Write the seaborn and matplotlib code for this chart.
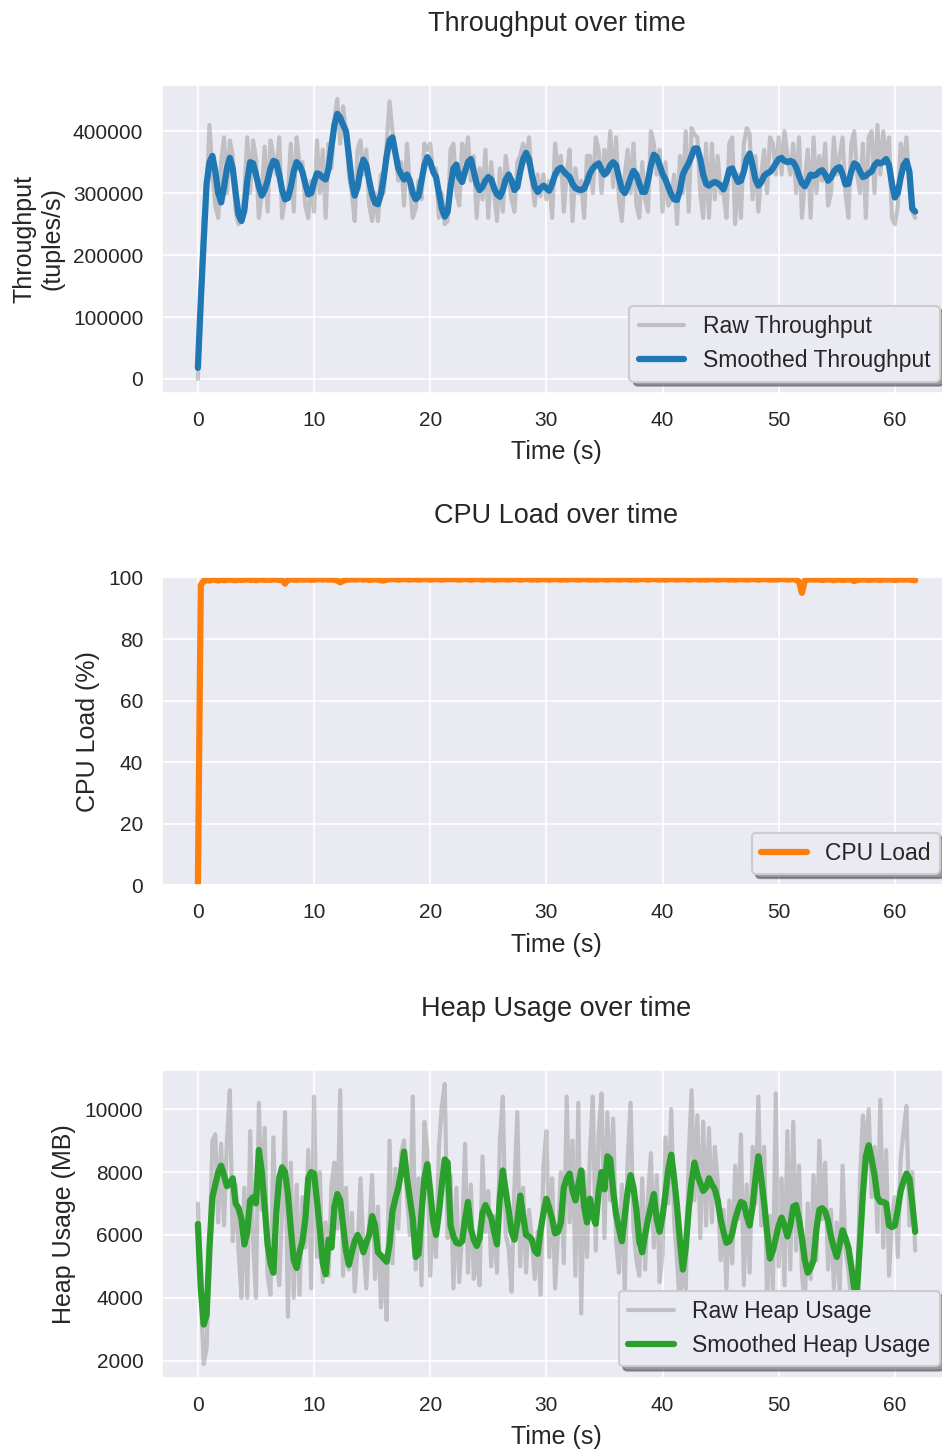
import numpy as np
import pandas as pd
import seaborn as sns
import matplotlib.pyplot as plt

sns.set_style("darkgrid")
plt.rcParams['font.family'] = ['Liberation Sans', 'DejaVu Sans']
plt.rcParams['xtick.labelsize'] = 10
plt.rcParams['ytick.labelsize'] = 10
plt.rcParams['axes.labelsize'] = 12
plt.rcParams['axes.titlesize'] = 13
plt.rcParams['legend.fontsize'] = 11
plt.rcParams['xtick.major.pad'] = 5
plt.rcParams['ytick.major.pad'] = 5.5

# samples every 0.25 s
SAMPLE_INTERVAL = 0.25

# throughput in thousands of tuples/s
raw_throughput_k = [
    0, 150, 260, 300, 410, 330, 280, 260,
    350, 390, 300, 385, 360, 270, 250, 255,
    300, 390, 300, 385, 355, 260, 300, 375,
    270, 385, 360, 330, 390, 260, 290, 300,
    380, 270, 390, 345, 350, 280, 260, 320,
    270, 385, 300, 370, 260, 380, 340, 420,
    452, 380, 440, 400, 330, 300, 255, 370,
    385, 330, 370, 280, 255, 300, 255, 330,
    300, 380, 448, 400, 370, 320, 350, 280,
    380, 310, 260, 275, 320, 290, 380, 370,
    380, 330, 340, 260, 300, 250, 255, 370,
    380, 300, 280, 380, 350, 390, 320, 360,
    260, 340, 290, 370, 260, 350, 300, 255,
    340, 270, 360, 325, 290, 270, 350, 360,
    380, 350, 390, 320, 280, 330, 295, 330,
    290, 320, 260, 380, 330, 360, 270, 330,
    370, 255, 340, 300, 320, 260, 360, 360,
    300, 390, 370, 300, 370, 330, 400, 310,
    390, 290, 255, 330, 370, 300, 380, 280,
    260, 350, 290, 270, 400, 380, 330, 370,
    270, 350, 280, 290, 330, 250, 360, 300,
    400, 270, 405, 395, 390, 300, 260, 380,
    260, 380, 290, 360, 300, 300, 260, 380,
    390, 250, 330, 260, 380, 405, 395, 290,
    360, 270, 330, 370, 300, 390, 380, 330,
    390, 330, 400, 360, 330, 380, 300, 390,
    260, 320, 370, 260, 390, 300, 360, 320,
    380, 280, 300, 390, 330, 360, 390, 300,
    260, 380, 400, 330, 300, 380, 260, 390,
    400, 300, 410, 330, 400, 350, 390, 260,
    250, 280, 380, 350, 390, 310, 270, 260,
]
smooth_throughput_k = [
    18, 126, 223, 315, 350, 360, 335, 300,
    285, 310, 340, 357, 340, 300, 265, 255,
    272, 320, 350, 348, 330, 310, 296, 305,
    320, 340, 352, 350, 330, 305, 290, 292,
    310, 335, 350, 345, 334, 315, 298, 300,
    318, 332, 330, 325, 322, 340, 375, 410,
    428, 422, 410, 400, 360, 318, 296, 310,
    338, 354, 345, 320, 298, 284, 282, 298,
    325, 360, 385, 390, 365, 340, 330, 322,
    330, 320, 300, 290, 295, 320, 345, 358,
    350, 335, 326, 300, 275, 262, 270, 310,
    340, 346, 325, 318, 335, 350, 355, 335,
    315, 305, 310, 320, 326, 322, 308, 298,
    294, 305, 322, 330, 320, 305, 310, 335,
    355, 365, 355, 330, 310, 302, 308, 312,
    308, 304, 315, 330, 338, 341, 335, 330,
    326, 315, 308, 306, 305, 307, 318, 332,
    340, 345, 348, 338, 330, 335, 345, 350,
    345, 325, 306, 300, 310, 325, 336, 330,
    315, 302, 302, 320, 345, 362, 358, 345,
    331, 322, 310, 298, 290, 289, 305, 330,
    340, 348, 360, 372, 372, 355, 330, 315,
    312, 316, 318, 316, 312, 306, 320, 338,
    340, 328, 318, 320, 335, 355, 364, 345,
    322, 312, 318, 328, 332, 334, 340, 348,
    355, 357, 352, 350, 352, 350, 342, 328,
    316, 311, 320, 330, 328, 330, 335, 337,
    330, 320, 325, 335, 340, 342, 330, 314,
    315, 335, 348, 345, 335, 326, 328, 332,
    335, 345, 350, 348, 350, 355, 345, 315,
    293, 300, 325, 345, 352, 335, 275, 270,
]

cpu_load = [
    0, 97.5, 98.9, 99.1, 99.0, 99.3, 99.2, 99.0,
    99.3, 99.1, 99.2, 99.4, 99.2, 99.1, 99.3, 99.2,
    99.3, 99.4, 99.2, 99.3, 99.1, 99.3, 99.4, 99.2,
    99.3, 99.2, 99.4, 99.3, 99.2, 99.1, 98.0, 99.2,
    99.4, 99.3, 99.2, 99.4, 99.3, 99.3, 99.4, 99.2,
    99.3, 99.4, 99.5, 99.3, 99.4, 99.3, 99.4, 99.2,
    99.0, 98.4, 98.9, 99.2, 99.3, 99.4, 99.3, 99.4,
    99.5, 99.3, 99.4, 99.2, 99.3, 99.4, 99.3, 99.1,
    99.0, 99.3, 99.4, 99.5, 99.4, 99.3, 99.4, 99.5,
    99.4, 99.3, 99.5, 99.4, 99.3, 99.4, 99.5, 99.4,
    99.3, 99.4, 99.5, 99.4, 99.3, 99.4, 99.5, 99.4,
    99.5, 99.4, 99.3, 99.4, 99.5, 99.4, 99.3, 99.4,
    99.5, 99.4, 99.3, 99.4, 99.5, 99.4, 99.3, 99.4,
    99.4, 99.5, 99.4, 99.3, 99.4, 99.5, 99.4, 99.3,
    99.4, 99.5, 99.4, 99.3, 99.4, 99.3, 99.4, 99.5,
    99.4, 99.3, 99.4, 99.5, 99.4, 99.3, 99.4, 99.3,
    99.4, 99.5, 99.4, 99.3, 99.4, 99.5, 99.4, 99.3,
    99.4, 99.3, 99.4, 99.5, 99.4, 99.3, 99.4, 99.5,
    99.4, 99.3, 99.4, 99.5, 99.4, 99.3, 99.4, 99.3,
    99.4, 99.5, 99.4, 99.3, 99.4, 99.5, 99.4, 99.3,
    99.4, 99.3, 99.4, 99.5, 99.4, 99.3, 99.4, 99.5,
    99.4, 99.3, 99.4, 99.5, 99.4, 99.3, 99.4, 99.3,
    99.4, 99.5, 99.4, 99.3, 99.4, 99.5, 99.4, 99.3,
    99.4, 99.3, 99.4, 99.5, 99.4, 99.3, 99.4, 99.5,
    99.4, 99.3, 99.4, 99.5, 99.4, 99.3, 99.4, 99.3,
    99.4, 99.5, 99.4, 99.3, 99.4, 99.5, 99.2, 98.6,
    95.0, 99.0, 99.3, 99.4, 99.3, 99.4, 99.3, 99.2,
    99.3, 99.4, 99.3, 99.1, 99.3, 99.4, 99.2, 99.3,
    99.4, 99.3, 98.8, 99.2, 99.3, 99.4, 99.3, 99.2,
    99.3, 99.4, 99.3, 99.2, 99.4, 99.3, 99.4, 99.3,
    99.2, 99.3, 99.4, 99.3, 99.4, 99.3, 99.2, 99.1,
]

raw_heap = [
    7000, 4200, 1900, 2400, 5400, 9000, 9200, 6400,
    8900, 6300, 9000, 10600, 5800, 7600, 5500, 4000,
    7500, 4000, 9300, 5800, 4000, 10200, 6800, 9400,
    4700, 4100, 9100, 5400, 4400, 6800, 9900, 3400,
    8300, 4000, 7600, 4100, 7200, 5600, 8700, 4300,
    10400, 5300, 8000, 4500, 6400, 4700, 7600, 8300,
    6200, 10600, 4700, 7500, 4900, 6700, 4200, 5600,
    7800, 5600, 4300, 6300, 7900, 4600, 6900, 3700,
    5300, 3300, 9000, 5100, 8100, 6200, 8600, 9000,
    7200, 6000, 10400, 4900, 7800, 4400, 9600, 8700,
    4700, 6600, 5300, 8800, 10100, 10800, 5900, 7900,
    4300, 7500, 4500, 6100, 8900, 4800, 7600, 4600,
    5500, 4400, 8500, 6100, 7400, 5000, 6600, 4800,
    9000, 10400, 6000, 5600, 4200, 7500, 9900, 5000,
    7500, 4800, 6800, 5900, 4600, 6100, 4100, 8200,
    9300, 5300, 7800, 4300, 6000, 8000, 5100, 10400,
    6400, 9000, 4700, 10200, 3500, 8000, 5300, 8600,
    10400, 5500, 9200, 10500, 5900, 9900, 7100, 9700,
    5800, 4800, 7600, 4200, 8400, 10200, 6200, 5200,
    4700, 7800, 4900, 7200, 8600, 5600, 7900, 4500,
    5400, 9100, 7000, 10000, 6400, 5200, 3600, 5700,
    4300, 8400, 10600, 7100, 9800, 5900, 9600, 6300,
    9400, 6400, 8800, 7700, 5200, 6800, 4300, 7100,
    5100, 8200, 6500, 9200, 4400, 7600, 4800, 8800,
    7000, 10400, 6300, 8800, 3900, 6600, 4200, 10500,
    5000, 7800, 4400, 9300, 4900, 9600, 5500, 8200,
    4800, 3700, 7000, 4600, 7900, 5200, 9000, 6500,
    8300, 4900, 6800, 4300, 6400, 4100, 8200, 5500,
    4900, 3800, 4300, 3700, 7800, 9800, 8600, 10000,
    7200, 8800, 6100, 10300, 5600, 8700, 4700, 6600,
    7200, 5300, 8400, 9300, 10100, 6300, 8000, 5500,
]
smooth_heap = [
    6350, 4300, 3150, 3450, 5600, 7200, 7600, 8000,
    8200, 7900, 7550, 7650, 7800, 7000, 6850, 6500,
    5700, 6100, 7100, 7200, 7000, 8700, 8000, 6900,
    5700, 5100, 4800, 6700, 7800, 8150, 8000, 7300,
    6200, 5200, 4950, 5450, 5800, 6500, 7800, 8000,
    7950, 7100, 6200, 5100, 4750, 5850, 5600, 6900,
    7300, 7100, 6300, 5500, 5050, 5450, 5800, 6000,
    5800, 5450, 5750, 6000, 6600, 6300, 5450, 5350,
    5250, 5150, 5700, 6750, 7150, 7500, 8000, 8650,
    7800, 7150, 6500, 5300, 5400, 6700, 7800, 8250,
    7400, 6450, 6000, 6700, 7600, 8400, 8300, 6300,
    5950, 5750, 5720, 5800, 6500, 7050, 6200, 5850,
    5650, 5900, 6700, 6950, 6750, 6550, 6100, 5700,
    7200, 8050, 7400, 6800, 6100, 5850, 6400, 7250,
    6600, 6000, 5950, 5850, 5500, 5400, 6150, 6700,
    7150, 6850, 6500, 6050, 6100, 6400, 7500, 7800,
    7950, 7400, 7100, 7600, 8050, 6900, 6400, 7150,
    6600, 6350, 7400, 8000, 7450, 8500, 8400, 7400,
    6650, 6200, 5800, 6600, 7400, 7900, 7500, 6800,
    5800, 5450, 6000, 6500, 6900, 7300, 6500, 6100,
    6600, 7300, 8100, 8550, 7800, 6900, 5800, 4900,
    5600, 6800, 7700, 8300, 7900, 7650, 7400, 7500,
    7800, 7600, 7450, 7100, 6500, 6100, 5750, 5800,
    6050, 6500, 6800, 7050, 7000, 6600, 6300, 6900,
    7800, 8500, 7800, 7000, 6100, 5250, 5500, 5900,
    6300, 6550, 6300, 5950, 6300, 6900, 6950, 6500,
    5900, 5200, 4800, 4950, 5200, 6200, 6800, 6850,
    6750, 6450, 5950, 5600, 5300, 5700, 6150, 5900,
    5600, 5000, 4300, 4250, 5800, 7300, 8500, 8850,
    8400, 7900, 7200, 7050, 7050, 7000, 6300, 6250,
    6300, 6800, 7400, 7700, 7950, 7800, 7000, 6100,
]

time_s = np.arange(len(raw_heap)) * SAMPLE_INTERVAL

df = pd.DataFrame({
    'time': time_s,
    'raw_tp': np.array(raw_throughput_k) * 1000,
    'smooth_tp': np.array(smooth_throughput_k) * 1000,
    'cpu': cpu_load,
    'raw_heap': raw_heap,
    'smooth_heap': smooth_heap,
})

fig, axes = plt.subplots(3, 1, figsize=(942 / 150, 1450 / 150), dpi=150)
# the right edge runs a little past the canvas, as in the source image
fig.subplots_adjust(left=0.172, right=1.0096, top=0.9414, bottom=0.0497, hspace=0.599)

# throughput
ax = axes[0]
sns.lineplot(data=df, x='time', y='raw_tp', ax=ax, color='gray', alpha=0.4, lw=2,
             label='Raw Throughput')
sns.lineplot(data=df, x='time', y='smooth_tp', ax=ax, color='tab:blue', lw=3,
             label='Smoothed Throughput')
ax.set_title('Throughput over time', pad=26)
ax.set_ylabel('Throughput\n(tuples/s)')

# cpu
ax = axes[1]
sns.lineplot(data=df, x='time', y='cpu', ax=ax, color='tab:orange', lw=3, label='CPU Load')
ax.set_title('CPU Load over time', pad=26)
ax.set_ylabel('CPU Load (%)')
ax.set_ylim(0, 100)

# heap
ax = axes[2]
sns.lineplot(data=df, x='time', y='raw_heap', ax=ax, color='gray', alpha=0.4, lw=2,
             label='Raw Heap Usage')
sns.lineplot(data=df, x='time', y='smooth_heap', ax=ax, color='tab:green', lw=3,
             label='Smoothed Heap Usage')
ax.set_title('Heap Usage over time', pad=26)
ax.set_ylabel('Heap Usage (MB)')

for ax in axes:
    ax.set_xlabel('Time (s)', labelpad=5)
    ax.legend(loc='lower right', shadow=True)

plt.savefig('out.png', dpi=150)
